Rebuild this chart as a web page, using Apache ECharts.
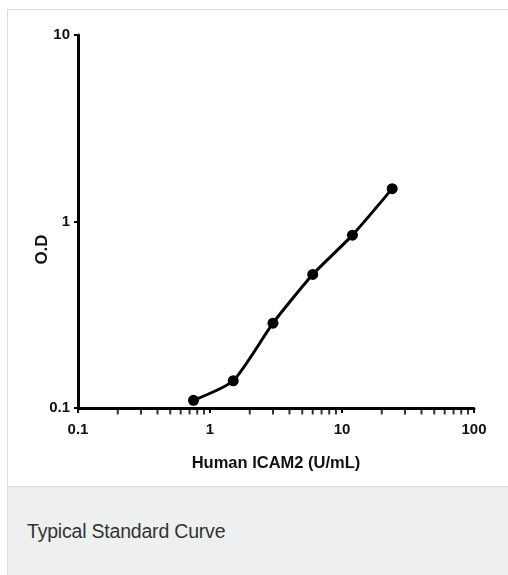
<!DOCTYPE html>
<html>
<head>
<meta charset="utf-8">
<script src="https://cdn.jsdelivr.net/npm/echarts@6/dist/echarts.min.js"></script>
<style>
  html, body { margin:0; padding:0; width:508px; height:575px; background:#fff; overflow:hidden; }
  #card { position:absolute; left:7px; top:9px; width:520px; height:478px; border:1px solid #dcdcdc; background:#fff; box-sizing:border-box; }
  #cap { position:absolute; left:7px; top:487px; width:520px; height:88px; background:#eef0ef; border-left:1px solid #dcdcdc; box-sizing:border-box;
         font-family:"Liberation Sans", Arial, sans-serif; font-size:19.5px; color:#333; }
  #cap span { position:absolute; left:19px; top:33px; letter-spacing:-0.2px; }
  #chart { position:absolute; left:0; top:0; width:508px; height:575px; }
</style>
</head>
<body>
<div id="card"></div>
<div id="cap"><span>Typical Standard Curve</span></div>
<div id="chart"></div>
<script>
const concentration = [0.75, 1.5, 3, 6, 12, 24];
const od = [0.11, 0.14, 0.285, 0.52, 0.845, 1.5];
const xTickLabels = ['0.1', '1', '10', '100'];
const yTickLabels = ['0.1', '1', '10'];
const xMinorTicks = [0.2,0.3,0.4,0.5,0.6,0.7,0.8,0.9, 2,3,4,5,6,7,8,9, 20,30,40,50,60,70,80,90];
const xTitle = 'Human ICAM2 (U/mL)';
const yTitle = 'O.D';

const chart = echarts.init(document.getElementById('chart'), null, {renderer:'canvas'});
const font = '"Liberation Sans", Arial, sans-serif';
chart.setOption({
  backgroundColor: 'transparent',
  animation: false,
  grid: { left: 78, top: 35, width: 396, height: 373, containLabel: false },
  xAxis: {
    type: 'log', logBase: 10, min: 0.1, max: 100,
    name: xTitle, nameLocation: 'middle', nameGap: 47, nameMoveOverlap: false,
    nameTextStyle: { fontFamily: font, fontWeight: 'bold', fontSize: 16.5, color: '#111' },
    axisLine: { lineStyle: { color: '#000', width: 3 } },
    axisTick: { show: true, inside: false, length: 5, lineStyle: { color: '#000', width: 2 } },
    axisLabel: { fontFamily: font, fontWeight: 'bold', fontSize: 15, color: '#111', margin: 14,
      formatter: v => { const i = Math.round(Math.log10(v)) + 1; return xTickLabels[i] || ''; } },
    splitLine: { show: false }
  },
  yAxis: {
    type: 'log', logBase: 10, min: 0.1, max: 10,
    name: yTitle, nameLocation: 'middle', nameGap: 27, nameRotate: 90, nameMoveOverlap: false,
    nameTextStyle: { fontFamily: font, fontWeight: 'bold', fontSize: 17, color: '#111', padding: [0, 56, 0, 0] },
    axisLine: { lineStyle: { color: '#000', width: 3 } },
    axisTick: { show: true, inside: false, length: 4, lineStyle: { color: '#000', width: 2 } },
    axisLabel: { fontFamily: font, fontWeight: 'bold', fontSize: 15, color: '#111', margin: 8,
      formatter: v => { const i = Math.round(Math.log10(v)) + 1; return yTickLabels[i] || ''; } },
    splitLine: { show: false }
  },
  series: [
    {
      type: 'line',
      data: concentration.map((c, i) => [c, od[i]]),
      smooth: 0.2,
      symbol: 'circle', symbolSize: 11,
      lineStyle: { color: '#000', width: 3 },
      itemStyle: { color: '#000' },
      z: 5
    },
    {
      type: 'scatter',
      data: xMinorTicks.map(v => [v, 0.1]),
      symbol: 'rect', symbolSize: [2, 5], symbolOffset: [0, 4],
      itemStyle: { color: '#000' },
      clip: false, silent: true, z: 1
    }
  ]
});
</script>
</body>
</html>
